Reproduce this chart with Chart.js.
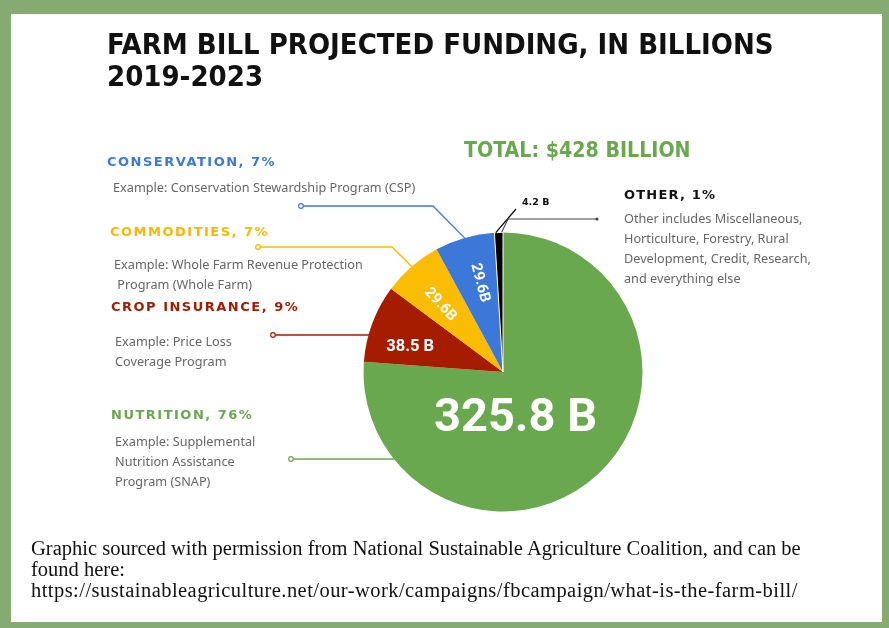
<!DOCTYPE html>
<html>
<head>
<meta charset="utf-8">
<script src="https://cdn.jsdelivr.net/npm/chart.js@4.4.0/dist/chart.umd.min.js"></script>
<style>
  html, body { margin: 0; padding: 0; background: #fff; }
  #frame {
    position: absolute; left: 0; top: 0; width: 889px; height: 628px;
    box-sizing: border-box; overflow: hidden;
    border-style: solid; border-color: #85ab73;
    border-width: 14px 7px 6px 11px;
  }
  #wrap { position: absolute; left: 0; top: 0; width: 889px; height: 628px; }
  canvas { position: absolute; left: 0; top: 0; }
  .t { position: absolute; white-space: nowrap; }
  .title { font-family: "Liberation Sans Narrow", "DejaVu Sans Condensed", sans-serif; font-weight: bold; font-size: 29px; line-height: 32px; color: #111; }
  .total { font-family: "Liberation Sans Narrow", "DejaVu Sans Condensed", sans-serif; font-weight: bold; font-size: 21.2px; line-height: 26px; color: #6aa84f; }
  .cat { font-family: "DejaVu Sans", sans-serif; font-weight: bold; font-size: 13px; letter-spacing: 1.5px; line-height: 16px; }
  .ex { font-family: "Noto Sans", sans-serif; font-size: 12.7px; line-height: 20px; color: #666; }
  .foot { font-family: "Liberation Serif", serif; font-size: 20.5px; line-height: 21px; color: #111; }
</style>
</head>
<body>
<div id="wrap">
  <canvas id="pie" width="889" height="628"></canvas>
  <div id="frame"></div>
  <div class="t title" style="left:107px; top:28px;">FARM BILL PROJECTED FUNDING, IN BILLIONS<br>2019-2023</div>
  <div class="t total" style="left:464px; top:137px;">TOTAL: $428 BILLION</div>

  <div class="t cat" style="left:107px; top:154px; color:#3c78d8;">CONSERVATION, 7%</div>
  <div class="t ex" style="left:113px; top:177px;">Example: Conservation Stewardship Program (CSP)</div>

  <div class="t cat" style="left:110px; top:224px; color:#f7b900;">COMMODITIES, 7%</div>
  <div class="t ex" style="left:114px; top:254px;">Example: Whole Farm Revenue Protection<br>&nbsp;Program (Whole Farm)</div>

  <div class="t cat" style="left:111px; top:299px; color:#a61c00;">CROP INSURANCE, 9%</div>
  <div class="t ex" style="left:115px; top:331px;">Example: Price Loss<br>Coverage Program</div>

  <div class="t cat" style="left:111px; top:407px; color:#6aa84f;">NUTRITION, 76%</div>
  <div class="t ex" style="left:115px; top:431px;">Example: Supplemental<br>Nutrition Assistance<br>Program (SNAP)</div>

  <div class="t cat" style="left:624px; top:187px; color:#111; letter-spacing:1.2px;">OTHER, 1%</div>
  <div class="t ex" style="left:624px; top:208px;">Other includes Miscellaneous,<br>Horticulture, Forestry, Rural<br>Development, Credit, Research,<br>and everything else</div>

  <div class="t foot" style="left:31px; top:538px;">Graphic sourced with permission from National Sustainable Agriculture Coalition, and can be<br>found here:<br><span style="letter-spacing:0.45px;">https://sustainableagriculture.net/our-work/campaigns/fbcampaign/what-is-the-farm-bill/</span></div>
</div>

<script>
// funding 2019-2023, billions of dollars
const categories = ['Nutrition', 'Crop Insurance', 'Commodities', 'Conservation', 'Other'];
const values = [325.8, 38.5, 29.6, 29.6, 4.2];
const valueLabels = ['325.8 B', '38.5 B', '29.6B', '29.6B', '4.2 B'];
const sliceColors = ['#6aa84f', '#a61c00', '#fbbc04', '#3c78d8', '#000000'];

// where each value label sits inside its slice (fraction of radius, angle shift in degrees)
const labelStyle = [
    { dist: 0.35, shift: 28, size: 47, rotate: false },
    { dist: 0.69, shift: -5, size: 16.5, rotate: false },
    { dist: 0.66, shift: -2, size: 15, rotate: true },
    { dist: 0.66, shift: 1.5, size: 15, rotate: true }
];

// leader lines from slices to the text blocks on the side
const leaders = [
    { color: '#6aa84f', dot: [291, 459] },
    { color: '#a61c00', dot: [273, 335] },
    { color: '#f7b900', dot: [258, 247], elbow: [392, 247] },
    { color: '#3c78d8', dot: [301, 206], elbow: [433, 206] }
];

function drawDot(ctx, x, y, color) {
    ctx.beginPath();
    ctx.arc(x, y, 2.3, 0, Math.PI * 2);
    ctx.fillStyle = '#fff';
    ctx.fill();
    ctx.strokeStyle = color;
    ctx.lineWidth = 1.2;
    ctx.stroke();
}

const annotate = {
    id: 'annotate',
    afterDatasetsDraw(chart) {
        const ctx = chart.ctx;
        const arcs = chart.getDatasetMeta(0).data;
        ctx.save();

        // leader lines
        leaders.forEach(function(l, i) {
            const a = arcs[i];
            const cx = a.x, cy = a.y, r = a.outerRadius;
            const mid = (a.startAngle + a.endAngle) / 2;
            ctx.beginPath();
            ctx.strokeStyle = l.color;
            ctx.lineWidth = 1.3;
            if (l.elbow) {
                ctx.moveTo(cx + r * Math.cos(mid), cy + r * Math.sin(mid));
                ctx.lineTo(l.elbow[0], l.elbow[1]);
                ctx.lineTo(l.dot[0], l.dot[1]);
            } else {
                const dy = l.dot[1] - cy;
                const ex = cx - Math.sqrt(r * r - dy * dy);
                ctx.moveTo(ex + 2, l.dot[1]);
                ctx.lineTo(l.dot[0], l.dot[1]);
            }
            ctx.stroke();
            drawDot(ctx, l.dot[0], l.dot[1], l.color);
        });

        // the tiny "other" slice gets two lines
        const o = arcs[4];
        const sx = o.x + o.outerRadius * Math.cos(o.startAngle + 0.01);
        const sy = o.y + o.outerRadius * Math.sin(o.startAngle + 0.01);
        ctx.beginPath();
        ctx.strokeStyle = '#111';
        ctx.lineWidth = 1.3;
        ctx.moveTo(sx, sy);
        ctx.lineTo(516, 209);
        ctx.stroke();
        const ex2 = o.x + o.outerRadius * Math.cos(o.endAngle - 0.01);
        const ey2 = o.y + o.outerRadius * Math.sin(o.endAngle - 0.01);
        ctx.beginPath();
        ctx.strokeStyle = '#444';
        ctx.lineWidth = 1.1;
        ctx.moveTo(ex2, ey2);
        ctx.lineTo(508, 219);
        ctx.lineTo(596, 219);
        ctx.stroke();
        ctx.beginPath();
        ctx.arc(597, 219, 1.6, 0, Math.PI * 2);
        ctx.fillStyle = '#444';
        ctx.fill();
        ctx.font = 'bold 9.5px "DejaVu Sans", sans-serif';
        ctx.fillStyle = '#111';
        ctx.textAlign = 'left';
        ctx.textBaseline = 'middle';
        ctx.fillText(valueLabels[4], 522, 203);

        // value labels inside slices
        labelStyle.forEach(function(s, i) {
            const a = arcs[i];
            const ang = (a.startAngle + a.endAngle) / 2 + s.shift * Math.PI / 180;
            const d = a.outerRadius * s.dist;
            ctx.save();
            ctx.translate(a.x + d * Math.cos(ang), a.y + d * Math.sin(ang));
            if (s.rotate) ctx.rotate(ang - Math.PI);
            ctx.font = 'bold ' + s.size + 'px Roboto, sans-serif';
            ctx.fillStyle = '#fff';
            ctx.textAlign = 'center';
            ctx.textBaseline = 'middle';
            ctx.fillText(valueLabels[i], 0, 0);
            ctx.restore();
        });
        ctx.restore();
    }
};

new Chart(document.getElementById('pie'), {
    type: 'pie',
    data: {
        labels: categories,
        datasets: [{
            data: values,
            backgroundColor: sliceColors,
            borderColor: '#fff',
            borderWidth: [0, 0, 0, 0, 1]
        }]
    },
    options: {
        responsive: false,
        animation: false,
        layout: { padding: { left: 363, right: 246, top: 232, bottom: 116 } },
        plugins: {
            legend: { display: false },
            tooltip: { enabled: false }
        }
    },
    plugins: [annotate]
});
</script>
</body>
</html>
